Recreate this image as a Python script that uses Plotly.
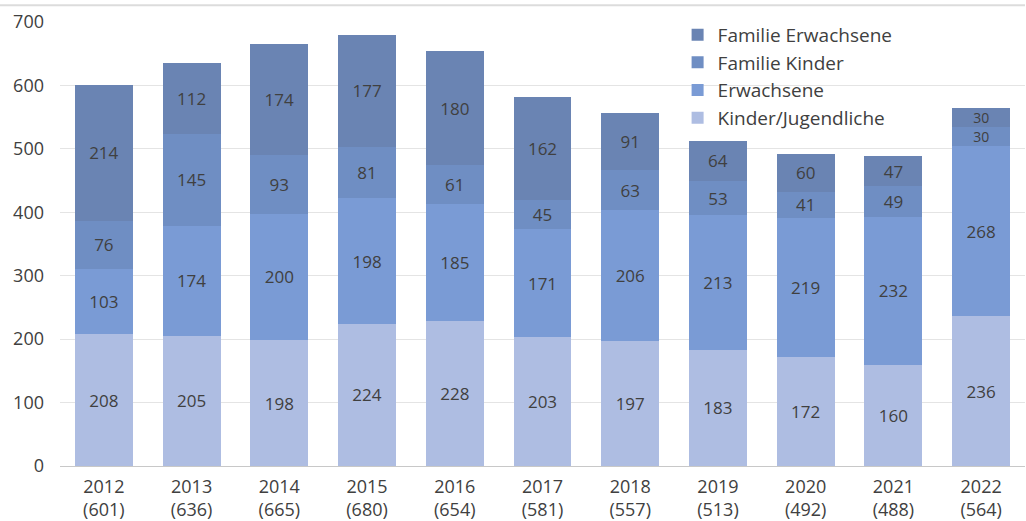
import plotly.graph_objects as go

years = ["2012", "2013", "2014", "2015", "2016", "2017", "2018", "2019", "2020", "2021", "2022"]
totals = [601, 636, 665, 680, 654, 581, 557, 513, 492, 488, 564]
kinder_jugendliche = [208, 205, 198, 224, 228, 203, 197, 183, 172, 160, 236]
erwachsene = [103, 174, 200, 198, 185, 171, 206, 213, 219, 232, 268]
familie_kinder = [76, 145, 93, 81, 61, 45, 63, 53, 41, 49, 30]
familie_erwachsene = [214, 112, 174, 177, 180, 162, 91, 64, 60, 47, 30]

categories = [f"{y}<br>({t})" for y, t in zip(years, totals)]

series = [
    ("Kinder/Jugendliche", kinder_jugendliche, "#aebde2"),
    ("Erwachsene", erwachsene, "#7a9bd5"),
    ("Familie Kinder", familie_kinder, "#6f8ec3"),
    ("Familie Erwachsene", familie_erwachsene, "#6a84b3"),
]

FONT = "Open Sans, Liberation Sans, Arial"

fig = go.Figure()
for name, vals, col in series:
    sizes = [14 if v < 35 else 17 for v in vals]
    fig.add_trace(go.Bar(
        name=name, x=categories, y=vals,
        marker=dict(color=col, line=dict(width=0)),
        text=[str(v) for v in vals],
        textposition="inside", insidetextanchor="middle", textangle=0,
        constraintext="none",
        textfont=dict(size=sizes, color="#404040", family=FONT),
        cliponaxis=False,
    ))

fig.update_layout(
    barmode="stack",
    bargap=0.34,
    width=1026, height=521,
    margin=dict(l=60, r=1, t=22, b=55),
    paper_bgcolor="white", plot_bgcolor="white",
    font=dict(family=FONT, size=17, color="#404040"),
    legend=dict(
        traceorder="reversed",
        x=0.64, y=1.014, xanchor="left", yanchor="top",
        bgcolor="rgba(0,0,0,0)",
        font=dict(size=19, color="#404040", family=FONT),
        itemwidth=30, tracegroupgap=0,
    ),
    xaxis=dict(
        showline=True, linecolor="#c8c8c8", linewidth=1,
        ticks="", tickfont=dict(size=18, color="#404040"),
        automargin=False, ticklabelstandoff=4,
    ),
    yaxis=dict(
        range=[0, 700], dtick=100,
        showgrid=True, gridcolor="#e4e4e4", gridwidth=1,
        zeroline=False, ticks="", ticklabelstandoff=15,
        tickfont=dict(size=18, color="#404040"),
        automargin=False,
    ),
    shapes=[dict(type="line", xref="paper", yref="paper", x0=-0.07, x1=1.0,
                 y0=1.038, y1=1.038, line=dict(color="#dcdcdc", width=2))],
)

fig.write_html(
    "out.html",
    config={"displayModeBar": False},
    post_script="document.body.style.margin='0';document.body.style.overflow='hidden';",
)
